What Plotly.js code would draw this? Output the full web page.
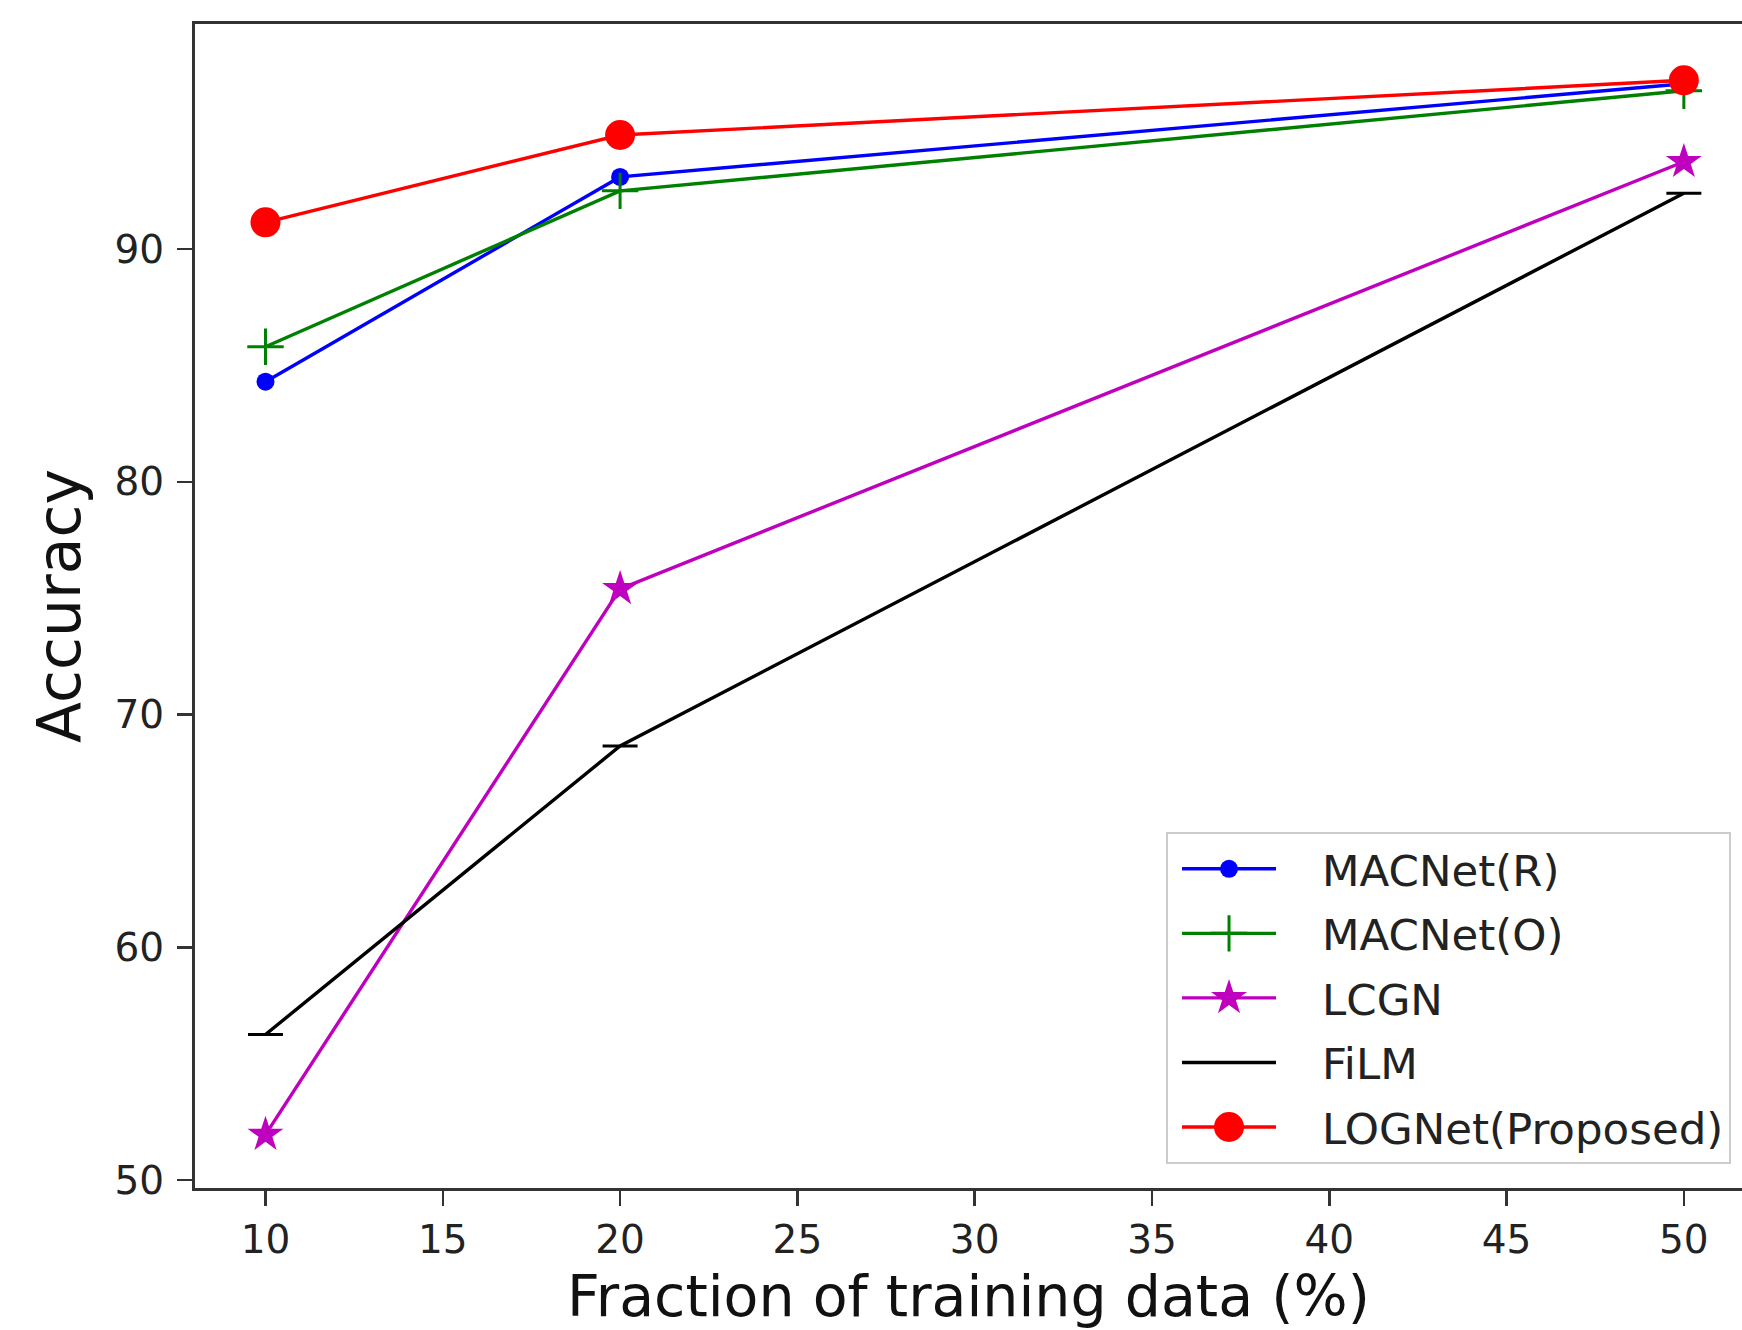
<!DOCTYPE html>
<html>
<head>
<meta charset="utf-8">
<script src="https://cdn.plot.ly/plotly-3.0.1.min.js"></script>
<style>
  html, body { margin: 0; padding: 0; background: #ffffff; }
  #chart { width: 1742px; height: 1330px; }
</style>
</head>
<body>
<div id="chart"></div>
<script>
// ---- data ----
const fractions = [10, 20, 50];
const seriesNames = ["MACNet(R)", "MACNet(O)", "LCGN", "FiLM", "LOGNet(Proposed)"];
const macnetR = [84.3, 93.1, 97.1];
const macnetO = [85.8, 92.5, 96.8];
const lcgn    = [51.95, 75.4, 93.75];
const film    = [56.25, 68.65, 92.4];
const lognet  = [91.15, 94.9, 97.25];
const xTicks = [10, 15, 20, 25, 30, 35, 40, 45, 50];
const yTicks = [50, 60, 70, 80, 90];

const FONT = "DejaVu Sans, Liberation Sans, sans-serif";

const styles = [
  {color: "#0000ff", symbol: "circle", size: 18, lw: 0},
  {color: "#008000", symbol: "cross-thin", size: 26, lw: 3},
  {color: "#bf00bf", symbol: "star", size: 27, lw: 0},
  {color: "#000000", symbol: "line-ew", size: 25, lw: 3},
  {color: "#ff0000", symbol: "circle", size: 30, lw: 0}
];
const values = [macnetR, macnetO, lcgn, film, lognet];

const traces = values.map((v, i) => {
  const s = styles[i];
  return {
    type: "scatter",
    mode: "lines+markers",
    name: seriesNames[i],
    legendgroup: "g" + i,
    x: fractions,
    y: v,
    line: {color: s.color, width: 3.4},
    marker: {
      color: s.color,
      symbol: s.symbol,
      size: s.size,
      line: {color: s.color, width: s.lw}
    }
  };
});

const layout = {
  width: 1742,
  height: 1330,
  paper_bgcolor: "#ffffff",
  plot_bgcolor: "#ffffff",
  margin: {l: 195, r: 0, t: 24, b: 142, pad: 0},
  font: {family: FONT, color: "#222222", size: 39},
  showlegend: true,
  legend: {
    x: 0.9929, xanchor: "right",
    y: 0.0206, yanchor: "bottom",
    bgcolor: "rgba(255,255,255,0.85)",
    bordercolor: "#cccccc",
    borderwidth: 2,
    font: {family: FONT, size: 43.5, color: "#222222"},
    tracegroupgap: 5,
    itemwidth: 144
  },
  xaxis: {
    range: [8.012, 51.64],
    tickmode: "array",
    tickvals: xTicks,
    ticktext: xTicks.map(String),
    showgrid: false,
    zeroline: false,
    showline: true,
    linecolor: "#333333",
    linewidth: 3,
    mirror: true,
    ticks: "outside",
    ticklen: 15,
    tickwidth: 2.5,
    tickcolor: "#333333",
    tickfont: {family: FONT, size: 39, color: "#222222"},
    title: {text: "Fraction of training data (%)", font: {family: FONT, size: 57, color: "#111111"}, standoff: 16}
  },
  yaxis: {
    range: [49.656, 99.67],
    tickmode: "array",
    tickvals: yTicks,
    ticktext: yTicks.map(String),
    showgrid: false,
    zeroline: false,
    showline: true,
    linecolor: "#333333",
    linewidth: 3,
    mirror: false,
    ticks: "outside",
    ticklen: 15,
    tickwidth: 2.5,
    tickcolor: "#333333",
    ticklabelstandoff: 5,
    tickfont: {family: FONT, size: 39, color: "#222222"},
    title: {text: "Accuracy", font: {family: FONT, size: 60, color: "#111111"}, standoff: 15}
  }
};

Plotly.newPlot("chart", traces, layout, {displayModeBar: false, staticPlot: true}).then(gd => {
  // lengthen legend sample lines and show markers at their plotted size (matplotlib-style legend)
  const plotTraces = gd.querySelectorAll(".scatterlayer .trace");
  const legTraces = gd.querySelectorAll(".legend .traces");
  legTraces.forEach((lt, i) => {
    lt.querySelectorAll(".legendlines path").forEach(p => p.setAttribute("d", "M14,0h94"));
    const src = plotTraces[i] ? plotTraces[i].querySelector(".points path") : null;
    lt.querySelectorAll("path.scatterpts").forEach(p => {
      p.setAttribute("transform", "translate(61,0)");
      if (src) p.setAttribute("d", src.getAttribute("d"));
    });
  });
});
</script>
</body>
</html>
